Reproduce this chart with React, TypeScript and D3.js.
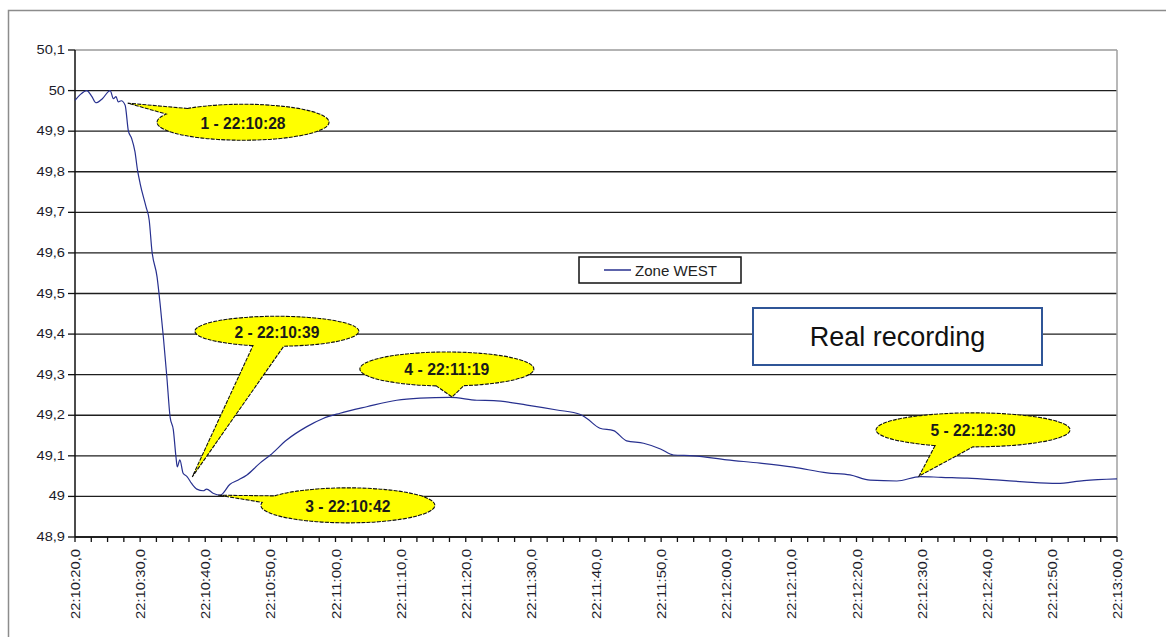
import React from "react";
import * as d3 from "d3";

// seconds after 22:10:20
const times = [0, 0.8, 1.8, 2.6, 3.2, 4.2, 5.4, 5.9, 6.3, 6.65, 7.1, 7.7, 8.2, 8.7, 9.2, 9.6, 10, 10.9, 11.4, 11.8, 12.6, 13.06, 13.56, 14.1, 14.6, 15.1, 15.5, 15.7, 16.1, 16.6, 17.2, 17.9, 18.7, 19.7, 20.2, 21.2, 22.3, 23.8, 25, 26.4, 28.4, 30, 32.5, 35.6, 38.1, 40.7, 44.8, 49.4, 53, 57.6, 61.7, 64.3, 69.4, 74, 77.6, 78.6, 80.6, 82.7, 84.7, 87.3, 89.9, 91.9, 95, 100.1, 105.2, 110.3, 115.5, 119, 122.1, 126.2, 129.8, 133, 137, 142, 145.7, 150.8, 154.9, 160];
const zoneWest = [49.976, 49.99, 50.0, 49.985, 49.97, 49.98, 50.0, 49.98, 49.985, 49.972, 49.975, 49.964, 49.9, 49.882, 49.85, 49.804, 49.771, 49.714, 49.68, 49.607, 49.541, 49.476, 49.394, 49.295, 49.196, 49.164, 49.098, 49.073, 49.09, 49.057, 49.049, 49.032, 49.018, 49.014, 49.018, 49.008, 49.003, 49.03, 49.04, 49.053, 49.082, 49.102, 49.139, 49.172, 49.192, 49.205, 49.221, 49.237, 49.242, 49.244, 49.237, 49.236, 49.225, 49.213, 49.202, 49.192, 49.168, 49.162, 49.137, 49.131, 49.117, 49.102, 49.1, 49.09, 49.082, 49.072, 49.058, 49.053, 49.04, 49.038, 49.049, 49.047, 49.045, 49.04, 49.036, 49.032, 49.039, 49.043];

const yTickValues = [48.9, 49.0, 49.1, 49.2, 49.3, 49.4, 49.5, 49.6, 49.7, 49.8, 49.9, 50.0, 50.1];
const yTickLabels = ["48,9", "49", "49,1", "49,2", "49,3", "49,4", "49,5", "49,6", "49,7", "49,8", "49,9", "50", "50,1"];
const xTickValues = [0, 10, 20, 30, 40, 50, 60, 70, 80, 90, 100, 110, 120, 130, 140, 150, 160];
const xTickLabels = ["22:10:20,0", "22:10:30,0", "22:10:40,0", "22:10:50,0", "22:11:00,0", "22:11:10,0", "22:11:20,0", "22:11:30,0", "22:11:40,0", "22:11:50,0", "22:12:00,0", "22:12:10,0", "22:12:20,0", "22:12:30,0", "22:12:40,0", "22:12:50,0", "22:13:00,0"];

// callouts: label, pointed-at point (t, v), bubble centre (t, v)
const calloutLabels = ["1 - 22:10:28", "2 - 22:10:39", "3 - 22:10:42", "4 - 22:11:19", "5 - 22:12:30"];
const calloutTipT = [8.1, 18.0, 22.0, 57.9, 129.6];
const calloutTipV = [49.969, 49.048, 49.003, 49.245, 49.05];
const calloutCenterT = [25.8, 31.0, 41.9, 57.1, 137.9];
const calloutCenterV = [49.922, 49.407, 48.978, 49.314, 49.164];

const seriesName = "Zone WEST";
const noteText = "Real recording";

const bubbleRx = [86, 82, 87, 87, 97];
const bubbleRy = [18, 15, 17.5, 17, 17];
const wedgeHalf = [0.2, 0.19, 0.2, 0.16, 0.2];

const FONT = "'Liberation Sans', Arial, sans-serif";

function calloutPath(cx: number, cy: number, rx: number, ry: number, tx: number, ty: number, d: number) {
  const a = Math.atan2((ty - cy) / ry, (tx - cx) / rx);
  const a1 = a + d;
  const a2 = a - d;
  const p1 = [cx + rx * Math.cos(a1), cy + ry * Math.sin(a1)];
  const p2 = [cx + rx * Math.cos(a2), cy + ry * Math.sin(a2)];
  return `M${p1[0]},${p1[1]} A${rx},${ry} 0 1 1 ${p2[0]},${p2[1]} L${tx},${ty} Z`;
}

export default function App() {
  const x = d3.scaleLinear().domain([0, 160]).range([75, 1117]);
  const y = d3.scaleLinear().domain([48.9, 50.1]).range([537, 50]);
  const line = d3
    .line<number>()
    .x((_, i) => x(times[i]))
    .y((v) => y(v))
    .curve(d3.curveMonotoneX);
  const minorTicks = d3.range(0, 160.001, 2.5);

  return (
    <svg
      width={1166}
      height={637}
      style={{ position: "absolute", left: 0, top: 0, background: "#fff" }}
      fontFamily={FONT}
    >
      <rect x={0} y={0} width={1166} height={637} fill="#fff" />
      {/* outer frame */}
      <rect x={8.5} y={10.5} width={1300} height={800} fill="none" stroke="#8c8c8c" strokeWidth={1.5} />

      {/* grid lines */}
      {yTickValues.map((v, i) => (
        <line
          key={"g" + i}
          x1={75}
          x2={1117}
          y1={y(v)}
          y2={y(v)}
          stroke={i === yTickValues.length - 1 ? "#9a9a9a" : "#1e1e1e"}
          strokeWidth={1.4}
        />
      ))}
      {/* right frame of plot */}
      <line x1={1117} x2={1117} y1={50} y2={537} stroke="#a0a0a0" strokeWidth={1.5} />
      {/* axes */}
      <line x1={75} x2={75} y1={50} y2={537} stroke="#111" strokeWidth={1.5} />
      <line x1={75} x2={1117} y1={537} y2={537} stroke="#111" strokeWidth={1.5} />

      {/* y ticks and labels */}
      {yTickValues.map((v, i) => (
        <g key={"y" + i}>
          <line x1={68} x2={75} y1={y(v)} y2={y(v)} stroke="#111" strokeWidth={1.3} />
          <text
            transform={`translate(65,${y(v)}) scale(1.22,1)`}
            textAnchor="end"
            dominantBaseline="central"
            fontSize={12}
            fill="#1c1c2a"
          >
            {yTickLabels[i]}
          </text>
        </g>
      ))}

      {/* x ticks */}
      {minorTicks.map((t, i) => (
        <line key={"xt" + i} x1={x(t)} x2={x(t)} y1={537} y2={542} stroke="#111" strokeWidth={1.3} />
      ))}
      {xTickValues.map((t, i) => (
        <text
          key={"xl" + i}
          transform={`translate(${x(t) + 1},549) rotate(-90)`}
          textAnchor="end"
          dominantBaseline="central"
          fontSize={12.5}
          textLength={70}
          lengthAdjust="spacingAndGlyphs"
          fill="#1c1c2a"
        >
          {xTickLabels[i]}
        </text>
      ))}

      {/* data line */}
      <path d={line(zoneWest) || ""} fill="none" stroke="#27308f" strokeWidth={1.2} strokeLinejoin="round" />

      {/* legend */}
      <rect x={579} y={257} width={162} height={26} fill="#fff" stroke="#111" strokeWidth={1.5} />
      <line x1={604} x2={631} y1={270} y2={270} stroke="#27308f" strokeWidth={1.5} />
      <text x={635} y={270.5} dominantBaseline="central" fontSize={14} textLength={82} lengthAdjust="spacingAndGlyphs" fill="#222">
        {seriesName}
      </text>

      {/* note box */}
      <rect x={753} y={308} width={289} height={57} fill="#fff" stroke="#2f5597" strokeWidth={2} />
      <text x={897.5} y={337} textAnchor="middle" dominantBaseline="central" fontSize={27} fill="#111">
        {noteText}
      </text>

      {/* callouts */}
      {calloutLabels.map((lab, i) => {
        const cx = x(calloutCenterT[i]);
        const cy = y(calloutCenterV[i]);
        const tx = x(calloutTipT[i]);
        const ty = y(calloutTipV[i]);
        return (
          <g key={"c" + i}>
            <path
              d={calloutPath(cx, cy, bubbleRx[i], bubbleRy[i], tx, ty, wedgeHalf[i])}
              fill="#ffff00"
              stroke="#111"
              strokeWidth={1.1}
              strokeDasharray="4 1.2"
            />
            <text
              x={cx}
              y={cy + 1}
              textAnchor="middle"
              dominantBaseline="central"
              fontSize={16}
              fontWeight="bold"
              textLength={85}
              lengthAdjust="spacingAndGlyphs"
              fill="#1a1a1a"
            >
              {lab}
            </text>
          </g>
        );
      })}
    </svg>
  );
}
